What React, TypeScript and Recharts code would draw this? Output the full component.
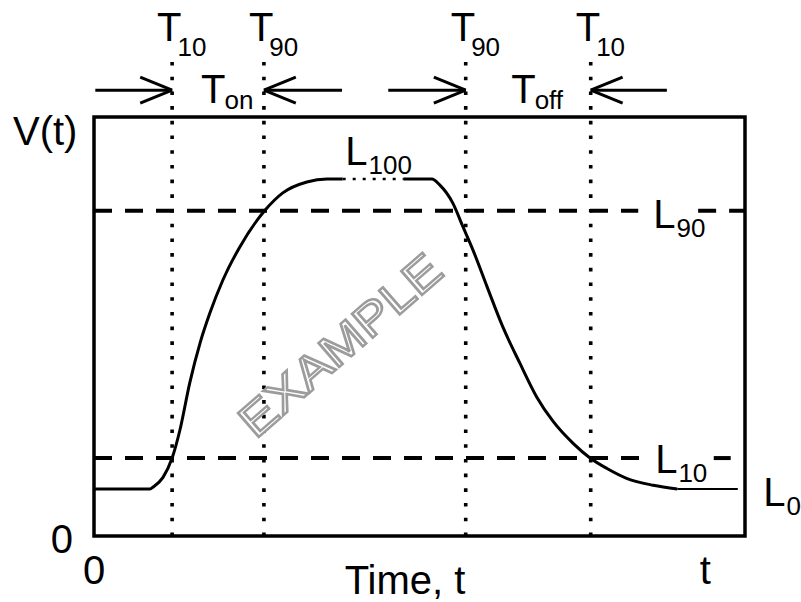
import React from "react";
import {
  LineChart,
  Line,
  XAxis,
  YAxis,
  ReferenceLine,
  ReferenceArea,
  ReferenceDot,
  Label,
} from "recharts";

const FONT = "'Liberation Sans', Arial, Helvetica, sans-serif";

// pulse shape: time and voltage both in % of the plot box
const curveT = [0, 8.6, 9.1, 10.6, 12.0, 13.2, 14.7, 16.3, 17.8, 19.8, 22.4, 26.3, 29.0, 32.7, 35.8, 38.2, 43, 47.6, 51.9, 53.1, 55.1, 56.7, 58.2, 60.4, 62.8, 65.4, 68.0, 70.5, 73.6, 76.2, 78.8, 81.9, 85.9, 89.6];
const curveV = [11.2, 11.2, 11.7, 14.0, 18.6, 25.3, 36.5, 46.1, 53.2, 61.1, 69.0, 77.8, 81.9, 84.5, 85.2, 85.2, null, 85.2, 85.2, 83.8, 79.5, 73.7, 68.3, 59.4, 49.9, 41.3, 33.2, 27.4, 22.1, 18.6, 16.1, 13.7, 12.1, 11.2];
const plateauT = [38.2, 47.6];
const plateauV = [85.2, 85.2];
const tailT = [89.6, 98.9];
const tailV = [11.2, 11.2];

// levels L0, L10, L90, L100
const levelNames = ["0", "10", "90", "100"];
const levelValues = [11.2, 18.6, 77.6, 85.2];
// dashed pieces of the L10 / L90 lines (gaps for their labels)
const l10Spans = [[0, 83.9], [95.2, 97.8]];
const l90Spans = [[0, 83.6], [92.8, 100]];

// crossing times T10, T90 (rise), T90, T10 (fall)
const timeNames = ["10", "90", "90", "10"];
const timeValues = [12.0, 26.1, 57.1, 76.3];
const arrowTails = [0.2, 38.1, 45.2, 88.0];
const spanNames = ["on", "off"];

const xTicks = [0, 93.9];
const xTickText = ["0", "t"];

const ARROW_Y = 106.4;
const DOT_TOP = 113.6;
const WING_X = 4.9;
const WING_Y = 3.1;

const curveData = curveT.map((t, i) => ({ t, v: curveV[i] }));
const plateauData = plateauT.map((t, i) => ({ t, v: plateauV[i] }));
const tailData = tailT.map((t, i) => ({ t, v: tailV[i] }));

// letter with a subscript, as one text element
function sub(x: number, y: number, main: string, small: string, dx: number, dy: number) {
  return (
    <text x={x} y={y} fontSize={40} fontFamily={FONT} fill="#000">
      <tspan>{main}</tspan>
      <tspan dx={dx} dy={dy} fontSize={26}>
        {small}
      </tspan>
    </text>
  );
}

const levelLabelDy = [17, 15, 17, -14];
const levelLabelAt = [102.8, 86.2, 85.9, 38.6];

export default function App() {
  const arrows = timeValues.map((tip, i) => {
    const tail = arrowTails[i];
    const dir = Math.sign(tip - tail);
    return [
      [{ x: tail, y: ARROW_Y }, { x: tip, y: ARROW_Y }],
      [{ x: tip, y: ARROW_Y }, { x: tip - dir * WING_X, y: ARROW_Y + WING_Y }],
      [{ x: tip, y: ARROW_Y }, { x: tip - dir * WING_X, y: ARROW_Y - WING_Y }],
    ];
  });

  return (
    <div style={{ position: "absolute", left: 0, top: 0, width: 801, height: 602, background: "#fff" }}>
      <LineChart width={801} height={602} margin={{ top: 117, right: 56, left: 0, bottom: 0 }}>
        <XAxis
          type="number"
          dataKey="t"
          domain={[0, 100]}
          ticks={xTicks}
          tickFormatter={(v: number) => xTickText[xTicks.indexOf(v)]}
          height={66}
          axisLine={false}
          tickLine={false}
          tickSize={0}
          tickMargin={20}
          tick={{ fontSize: 40, fill: "#000", fontFamily: FONT }}
          allowDataOverflow
        >
          <Label
            content={(p: any) => (
              <text
                x={p.viewBox.x + 311}
                y={p.viewBox.y + 58}
                textAnchor="middle"
                fontSize={40}
                fontFamily={FONT}
                fill="#000"
              >
                Time, t
              </text>
            )}
          />
        </XAxis>
        <YAxis
          type="number"
          domain={[0, 100]}
          ticks={[0]}
          width={94}
          axisLine={false}
          tickLine={false}
          tickSize={0}
          tickMargin={21}
          tick={{ fontSize: 40, fill: "#000", fontFamily: FONT, dy: 3 }}
          allowDataOverflow
        >
          <Label
            content={(p: any) => (
              <text x={13} y={p.viewBox.y + 28} fontSize={40} fontFamily={FONT} fill="#000">
                V(t)
              </text>
            )}
          />
        </YAxis>

        <ReferenceArea
          x1={0}
          x2={100}
          y1={0}
          y2={100}
          fill="none"
          stroke="#000"
          strokeWidth={3.5}
          ifOverflow="visible"
        />

        <ReferenceDot
          x={37.8}
          y={45.6}
          r={0}
          fill="none"
          stroke="none"
          ifOverflow="visible"
          label={(p: any) => {
            const cx = p.viewBox.x;
            const cy = p.viewBox.y;
            return (
              <text
                x={cx}
                y={cy}
                textAnchor="middle"
                dominantBaseline="central"
                transform={`rotate(-41 ${cx} ${cy})`}
                fontSize={46}
                fontFamily={FONT}
                fill="#fff"
                stroke="#9c9c9c"
                strokeWidth={2.4}
                textLength={252}
                lengthAdjust="spacingAndGlyphs"
              >
                EXAMPLE
              </text>
            );
          }}
        />

        {l10Spans.map((s, i) => (
          <ReferenceLine
            key={`l10-${i}`}
            segment={[{ x: s[0], y: levelValues[1] }, { x: s[1], y: levelValues[1] }]}
            stroke="#000"
            strokeWidth={4}
            strokeDasharray="18 13"
            ifOverflow="visible"
          />
        ))}
        {l90Spans.map((s, i) => (
          <ReferenceLine
            key={`l90-${i}`}
            segment={[{ x: s[0], y: levelValues[2] }, { x: s[1], y: levelValues[2] }]}
            stroke="#000"
            strokeWidth={4}
            strokeDasharray="18 13"
            ifOverflow="visible"
          />
        ))}

        {timeValues.map((t, i) => (
          <ReferenceLine
            key={`tv-${i}`}
            segment={[{ x: t, y: 0 }, { x: t, y: DOT_TOP }]}
            stroke="#000"
            strokeWidth={3.6}
            strokeDasharray="3.6 11.1"
            ifOverflow="visible"
            label={(p: any) => sub(p.viewBox.x - 15, p.viewBox.y - 19, "T", timeNames[i], -4, 15)}
          />
        ))}

        {arrows.flat().map((seg, i) => (
          <ReferenceLine
            key={`ar-${i}`}
            segment={seg}
            stroke="#000"
            strokeWidth={3}
            ifOverflow="visible"
          />
        ))}

        {spanNames.map((name, i) => (
          <ReferenceDot
            key={`span-${name}`}
            x={(timeValues[i * 2] + timeValues[i * 2 + 1]) / 2}
            y={ARROW_Y}
            r={0}
            fill="none"
            stroke="none"
            ifOverflow="visible"
            label={(p: any) => sub(p.viewBox.x - 17, p.viewBox.y + 13, "T", name, -1, 6)}
          />
        ))}

        {levelNames.map((name, i) => (
          <ReferenceDot
            key={`lv-${name}`}
            x={levelLabelAt[i]}
            y={levelValues[i]}
            r={0}
            fill="none"
            stroke="none"
            ifOverflow="visible"
            label={(p: any) => sub(p.viewBox.x, p.viewBox.y + levelLabelDy[i], "L", name, 1, 9)}
          />
        ))}

        <Line
          data={curveData}
          dataKey="v"
          type="monotone"
          stroke="#000"
          strokeWidth={3}
          dot={false}
          activeDot={false}
          connectNulls={false}
          isAnimationActive={false}
        />
        <Line
          data={plateauData}
          dataKey="v"
          type="linear"
          stroke="#000"
          strokeWidth={2.5}
          strokeDasharray="3 7"
          dot={false}
          activeDot={false}
          isAnimationActive={false}
        />
        <Line
          data={tailData}
          dataKey="v"
          type="linear"
          stroke="#000"
          strokeWidth={2}
          dot={false}
          activeDot={false}
          isAnimationActive={false}
        />
      </LineChart>
    </div>
  );
}
